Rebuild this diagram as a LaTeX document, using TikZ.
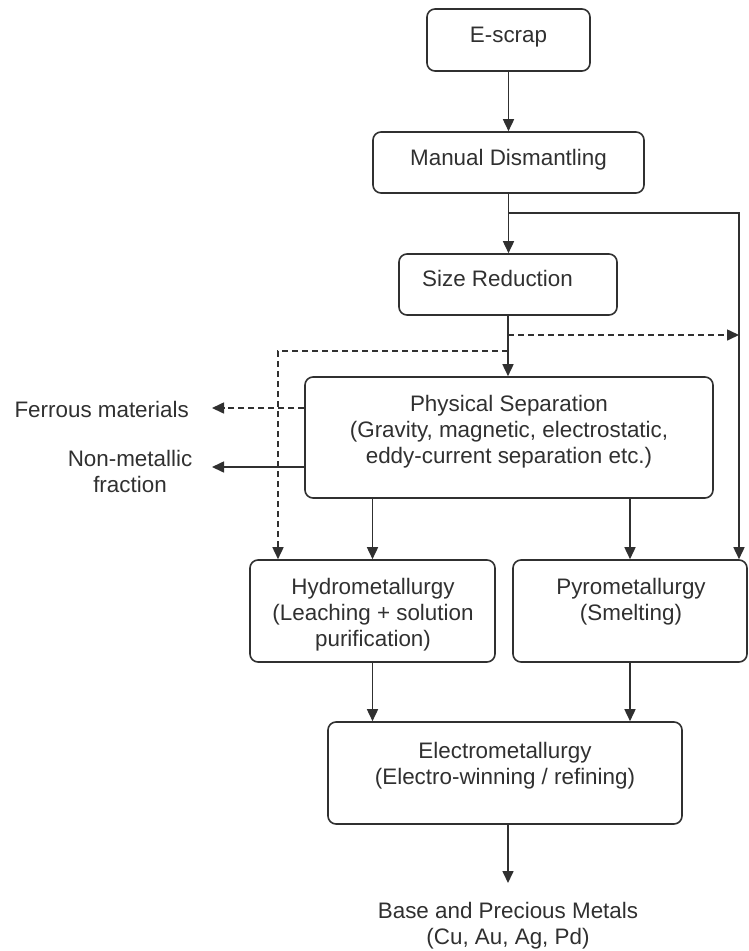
\documentclass[tikz,border=0pt]{standalone}
\usepackage{fontspec}
\setmainfont{Liberation Sans}
\usetikzlibrary{arrows.meta}
\definecolor{ink}{HTML}{303030}
\begin{document}
\begin{tikzpicture}[x=1pt,y=-1pt,
 box/.style={draw=ink, line width=1.6pt, rounded corners=8pt, inner sep=0pt},
 txt/.style={text=ink, font=\fontsize{22.4}{26}\selectfont, inner sep=0pt, align=center},
 arr/.style={draw=ink, line width=1.6pt, -{Triangle[length=12pt,width=11pt]}},
 darr/.style={arr, dash pattern=on 6pt off 4pt},
 ln/.style={draw=ink, line width=1.6pt}]
\useasboundingbox (0,0) rectangle (749,951);

% boxes
\node[box, minimum width=163pt, minimum height=62pt] (escrap) at (508.5,40) {};
\node[txt, anchor=base] (escrapT) at (508.5,42) {E-scrap};
\node[box, minimum width=271pt, minimum height=61pt] (manual) at (508.5,162.5) {};
\node[txt, anchor=base] (manualT) at (508.5,165) {Manual Dismantling};
\node[box, minimum width=218pt, minimum height=61pt] (size) at (508,284.5) {};
\node[txt, anchor=base west] (sizeT) at (422,286) {Size Reduction};
\node[box, minimum width=408pt, minimum height=121pt] (phys) at (509,437.5) {};
\node[txt, anchor=north] (physT) at (509,395) {Physical Separation\\(Gravity, magnetic, electrostatic,\\eddy-current separation etc.)};
\node[box, minimum width=245pt, minimum height=102pt] (hydro) at (372.5,611) {};
\node[txt, anchor=north] (hydroT) at (373,578) {Hydrometallurgy\\(Leaching + solution\\purification)};
\node[box, minimum width=234pt, minimum height=102pt] (pyro) at (630,611) {};
\node[txt, anchor=north] (pyroT) at (631,578) {Pyrometallurgy\\(Smelting)};
\node[box, minimum width=354pt, minimum height=102pt] (electro) at (505,773) {};
\node[txt, anchor=north] (electroT) at (505,742) {Electrometallurgy\\(Electro-winning / refining)};
\node[txt, anchor=north] (metals) at (508,902) {Base and Precious Metals\\(Cu, Au, Ag, Pd)};
\node[txt, anchor=base east] (ferrous) at (189,417) {Ferrous materials};
\node[txt, anchor=north] (nonmet) at (130,450) {Non-metallic\\fraction};

% helper coordinates
\coordinate (r1) at (739,213);
\coordinate (d1) at (508,335);
\coordinate (d1r) at (739,335);
\coordinate (d2) at (508,351);
\coordinate (hx) at (278,351);
\coordinate (fe) at (212,408);
\coordinate (nm) at (212,467);
\coordinate (mtip) at (508,883);

% connectors
\draw[arr] (escrap) -- (manual);
\draw[arr] (manual.south) |- (r1) -- (r1 |- pyro.north);
\draw[arr] (manual.south) -- (manual.south |- size.north);
\draw[arr] (size.south) -- (size.south |- phys.north);
\draw[darr] (d1) -- (d1r);
\draw[darr] (d2) -| (hx |- hydro.north);
\draw[darr] (phys.west |- fe) -- (fe);
\draw[arr] (phys.west |- nm) -- (nm);
\draw[arr] (hydro.north |- phys.south) -- (hydro.north);
\draw[arr] (pyro.north |- phys.south) -- (pyro.north);
\draw[arr] (hydro.south) -- (hydro.south |- electro.north);
\draw[arr] (pyro.south) -- (pyro.south |- electro.north);
\draw[arr] (mtip |- electro.south) -- (mtip);
\end{tikzpicture}
\end{document}
